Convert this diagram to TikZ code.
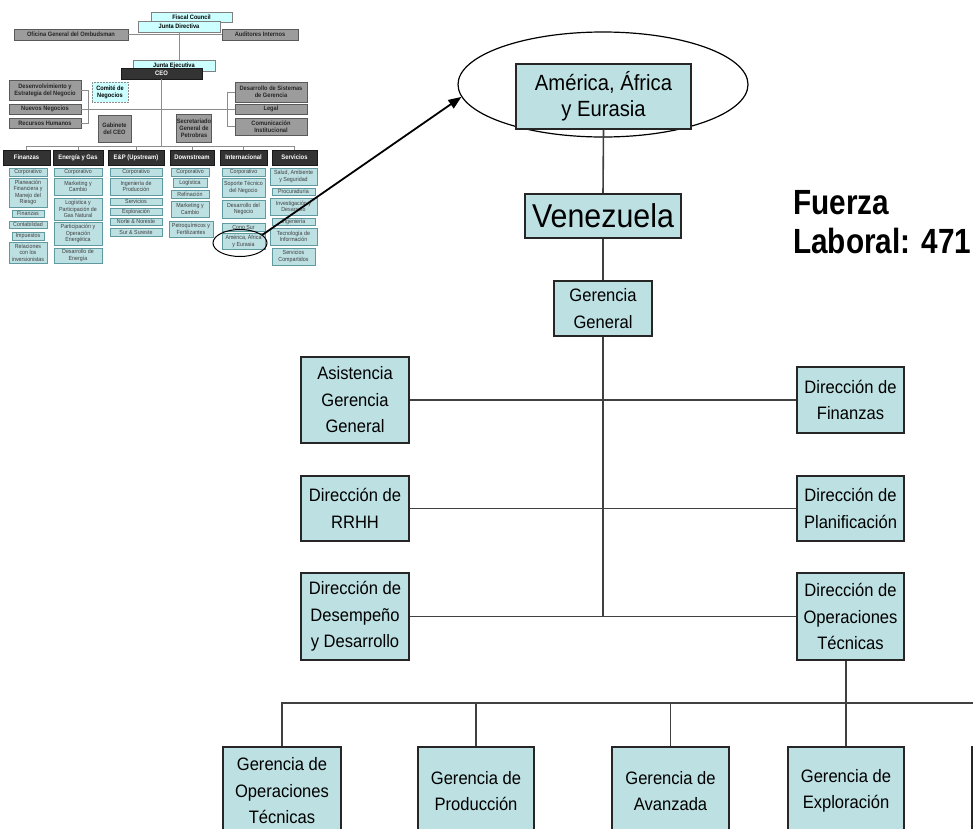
\documentclass[tikz,border=0pt]{standalone}
\usepackage{fontspec}
\usetikzlibrary{shapes.geometric,arrows.meta}
\newfontfamily\boxfont[FakeStretch=0.92]{Liberation Sans}
\newfontfamily\labfont[FakeStretch=0.85]{Liberation Sans}
\newfontfamily\thumbfont[FakeStretch=0.9]{Liberation Sans}
\definecolor{boxfill}{HTML}{BDE0E3}
\definecolor{thumbcyan}{HTML}{CCFFFF}
\definecolor{thumbgray}{HTML}{9C9C9C}
\definecolor{subedge}{HTML}{5E9AA0}
% box from corner (x1,y1) to corner (x2,y2), units in px
\newcommand{\orgbox}[7]{\node[#1, minimum width={(#5-#3)*1pt}, minimum height={(#6-#4)*1pt}] (#2) at ({(#3+#5)/2},{(#4+#6)/2}) {#7};}
\begin{document}
\begin{tikzpicture}[x=1pt,y=-1pt,
  mainbox/.style={draw=black!85, line width=1.1pt, fill=boxfill, align=center, inner sep=1pt,
    font=\boxfont\fontsize{18}{26.5}\selectfont},
  link/.style={draw=black!75, line width=1.6pt},
  tcyan/.style={draw=black!50, line width=0.5pt, fill=thumbcyan, align=center, inner sep=0.3pt,
    font=\thumbfont\bfseries\fontsize{6.3}{6.8}\selectfont},
  tgray/.style={draw=black!65, line width=0.6pt, fill=thumbgray, align=center, inner sep=0.3pt,
    font=\thumbfont\bfseries\fontsize{6.3}{6.8}\selectfont, text=black!85},
  thead/.style={draw=black!90, line width=0.5pt, fill=black!80, text=white, align=center, inner sep=0.3pt,
    font=\thumbfont\bfseries\fontsize{6.5}{7}\selectfont},
  tsub/.style={draw=subedge, line width=0.5pt, fill=boxfill, align=center, inner sep=0.2pt, text=black!75,
    font=\thumbfont\fontsize{5.9}{6.6}\selectfont},
  tline/.style={draw=black!45, line width=0.6pt},
  ring/.style={draw=black, line width=1pt, ellipse, inner sep=0pt}
]
\useasboundingbox (0,0) rectangle (973,828);
\clip (0,0) rectangle (973,828);

% ---------- small overview chart ----------
\orgbox{tcyan}{fc}{151}{12}{232}{22}{Fiscal Council}
\orgbox{tcyan}{jd}{138}{21}{220}{32}{Junta Directiva}
\orgbox{tgray}{ofi}{14}{29}{128}{40}{Oficina General del Ombudsman}
\orgbox{tgray}{aud}{222}{29}{298}{40}{Auditores Internos}
\draw[tline] (ofi.east) -- (aud.west);
\orgbox{tcyan}{je}{133}{60}{215}{71}{Junta Ejecutiva}
\draw[tline] (jd.south) -- (jd.south |- je.north);
\orgbox{thead}{ceo}{121}{68}{202}{79}{CEO}

\orgbox{tgray}{desv}{9}{80}{81}{100}{Desenvolvimiento y\\Estrategia del Negocio}
\orgbox{tgray}{nue}{9}{104}{81}{114}{Nuevos Negocios}
\orgbox{tgray}{rhu}{9}{118}{81}{128}{Recursos Humanos}
\orgbox{tcyan, densely dotted, draw=black!45}{cmt}{92}{82}{128}{102}{Comité de\\Negocios}
\orgbox{tgray}{gab}{98}{115}{131}{142}{Gabinete\\del CEO}
\orgbox{tgray}{sec}{177}{114}{211}{142}{Secretariado\\General de\\Petrobras}
\orgbox{tgray}{dsg}{235}{82}{307}{102}{Desarrollo de Sistemas\\de Gerencia}
\orgbox{tgray}{leg}{235}{104}{307}{114}{Legal}
\orgbox{tgray}{cmi}{235}{118}{307}{135}{Comunicación\\Institucional}
\draw[tline] (desv.east) -- ++(7,0) |- (rhu.east);
\draw[tline] (nue.east) -- (leg.west);
\draw[tline] (dsg.west) -- ++(-7,0) |- (cmi.west);

\orgbox{thead}{finh}{3}{150}{50}{165}{Finanzas}
\orgbox{thead}{eneh}{53}{150}{103}{165}{Energía y Gas}
\orgbox{thead}{eph}{108}{150}{164}{165}{E\&P (Upstream)}
\orgbox{thead}{dnh}{170}{150}{214}{165}{Downstream}
\orgbox{thead}{inh}{220}{150}{267}{165}{Internacional}
\orgbox{thead}{svh}{272}{150}{317}{165}{Servicios}
\coordinate (hbar) at (0,146);
\draw[tline] (ceo.south) -- (ceo.south |- hbar);
\draw[tline] (finh.north |- hbar) -- (svh.north |- hbar);
\foreach \h in {finh,eneh,eph,dnh,inh,svh} \draw[tline] (\h.north) -- (\h.north |- hbar);

\orgbox{tsub}{fin1}{9}{168}{47}{176}{Corporativo}
\orgbox{tsub}{fin2}{9}{178}{47}{207}{Planeación\\Financiera y\\Manejo del\\Riesgo}
\orgbox{tsub}{fin3}{12}{210}{44}{217}{Finanzas}
\orgbox{tsub}{fin4}{9}{221}{47}{228}{Contabilidad}
\orgbox{tsub}{fin5}{12}{232}{44}{240}{Impuestos}
\orgbox{tsub}{fin6}{9}{242}{47}{263}{Relaciones\\con los\\inversionistas}

\orgbox{tsub}{ene1}{54}{168}{102}{176}{Corporativo}
\orgbox{tsub}{ene2}{54}{178}{102}{195}{Marketing y\\Cambio}
\orgbox{tsub}{ene3}{54}{198}{102}{220}{Logística y\\Participación de\\Gas Natural}
\orgbox{tsub}{ene4}{54}{222}{102}{245}{Participación y\\Operación\\Energética}
\orgbox{tsub}{ene5}{54}{248}{102}{263}{Desarrollo de\\Energía}

\orgbox{tsub}{ep1}{110}{168}{162}{176}{Corporativo}
\orgbox{tsub}{ep2}{110}{178}{162}{195}{Ingeniería de\\Producción}
\orgbox{tsub}{ep3}{110}{198}{162}{205}{Servicios}
\orgbox{tsub}{ep4}{110}{208}{162}{215}{Exploración}
\orgbox{tsub}{ep5}{110}{218}{162}{225}{Norte \& Noreste}
\orgbox{tsub}{ep6}{110}{228}{162}{236}{Sur \& Sureste}

\orgbox{tsub}{dn1}{171}{168}{209}{176}{Corporativo}
\orgbox{tsub}{dn2}{173}{178}{207}{187}{Logística}
\orgbox{tsub}{dn3}{171}{190}{209}{198}{Refinación}
\orgbox{tsub}{dn4}{171}{201}{209}{217}{Marketing y\\Cambio}
\orgbox{tsub}{dn5}{169}{221}{213}{237}{Petroquímicos y\\Fertilizantes}

\orgbox{tsub}{in1}{222}{168}{265}{176}{Corporativo}
\orgbox{tsub}{in2}{222}{178}{265}{197}{Soporte Técnico\\del Negocio}
\orgbox{tsub}{in3}{222}{200}{265}{218}{Desarrollo del\\Negocio}
\orgbox{tsub}{in4}{222}{223}{265}{231}{Cono Sur}
\orgbox{tsub}{in5}{222}{233}{265}{249}{América, África\\y Eurasia}

\orgbox{tsub}{sv1}{270}{168}{317}{185}{Salud, Ambiente\\y Seguridad}
\orgbox{tsub}{sv2}{272}{188}{315}{195}{Procuraduría}
\orgbox{tsub}{sv3}{270}{198}{317}{215}{Investigación y\\Desarrollo}
\orgbox{tsub}{sv4}{272}{218}{315}{225}{Ingeniería}
\orgbox{tsub}{sv5}{270}{228}{317}{245}{Tecnología de\\Información}
\orgbox{tsub}{sv6}{272}{248}{315}{265}{Servicios\\Compartidos}

\node[ring, minimum width=54pt, minimum height=27pt] (sel) at (240,243) {};

% ---------- detailed chart ----------
\node[ring, line width=1.2pt, minimum width=290pt, minimum height=105pt] (bel) at (603,84.5) {};
\draw[line width=1.8pt, -{Triangle[length=13pt,width=10pt]}] (sel.20) -- (bel.185);

\orgbox{mainbox, font=\boxfont\fontsize{22}{26}\selectfont}{amer}{516}{64}{691}{129}{América, África\\y Eurasia}
\orgbox{mainbox, font=\boxfont\fontsize{33}{36}\selectfont}{venez}{525}{194}{681}{238}{Venezuela}
\orgbox{mainbox}{gg}{554}{281}{652}{336}{Gerencia\\General}

\orgbox{mainbox}{asis}{301}{357}{409}{443}{Asistencia\\Gerencia\\General}
\orgbox{mainbox}{rrhh}{301}{476}{409}{541}{Dirección de\\RRHH}
\orgbox{mainbox}{desem}{301}{573}{409}{660}{Dirección de\\Desempeño\\y Desarrollo}
\orgbox{mainbox}{fin}{797}{367}{904}{433}{Dirección de\\Finanzas}
\orgbox{mainbox}{plan}{797}{476}{904}{541}{Dirección de\\Planificación}
\orgbox{mainbox}{ops}{797}{573}{904}{660}{Dirección de\\Operaciones\\Técnicas}

\draw[link] (amer.south) -- (venez.north);
\draw[link] (venez.south) -- (gg.north);
\draw[link] (gg.south) -- (gg.south |- desem.east);
\draw[link] (asis.east) -- (fin.west);
\draw[link] (rrhh.east) -- (plan.west);
\draw[link] (desem.east) -- (ops.west);

\orgbox{mainbox}{got}{223}{747}{341}{835}{Gerencia de\\Operaciones\\Técnicas}
\orgbox{mainbox}{prod}{418}{747}{534}{835}{Gerencia de\\Producción}
\orgbox{mainbox}{avan}{612}{747}{729}{835}{Gerencia de\\Avanzada}
\orgbox{mainbox}{expl}{788}{747}{904}{835}{Gerencia de\\Exploración}
\orgbox{mainbox}{gfive}{972}{747}{1089}{835}{}

\coordinate (bbar) at (0,703);
\draw[link] (got.north) -- (got.north |- bbar) -- (gfive.north |- bbar) -- (gfive.north);
\draw[link] (prod.north) -- (prod.north |- bbar);
\draw[link] (avan.north) -- (avan.north |- bbar);
\draw[link] (expl.north) -- (expl.north |- ops.south);

\node[anchor=base west, inner sep=0, font=\labfont\bfseries\fontsize{35}{39}\selectfont] (fz1) at (793,214) {Fuerza};
\node[anchor=base west, inner sep=0, font=\labfont\bfseries\fontsize{35}{39}\selectfont] (fz2) at (793,253) {Laboral: 471};
\end{tikzpicture}
\end{document}
